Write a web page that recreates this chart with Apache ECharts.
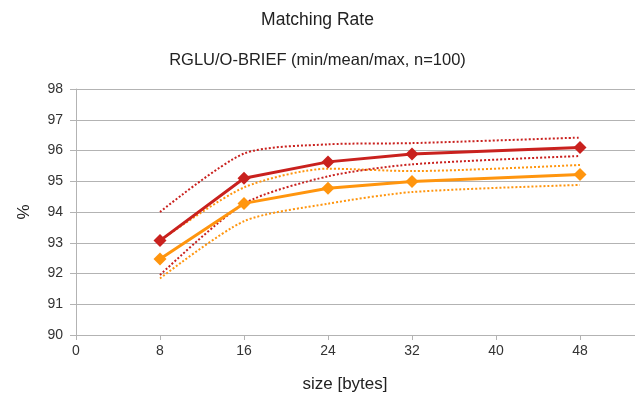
<!DOCTYPE html>
<html>
<head>
<meta charset="utf-8">
<script src="https://cdn.jsdelivr.net/npm/echarts@6/dist/echarts.min.js"></script>
<style>
html,body{margin:0;padding:0;background:#fff;overflow:hidden;}
#c{width:635px;height:398px;}
</style>
</head>
<body>
<div id="c"></div>
<script>
var sizes = [8, 16, 24, 32, 48];
var redMean = [93.07, 95.10, 95.63, 95.89, 96.10];
var redMax = [94.00, 95.90, 96.20, 96.24, 96.42];
var redMin = [91.95, 94.27, 95.16, 95.55, 95.82];
var orangeMean = [92.47, 94.28, 94.77, 94.99, 95.22];
var orangeMax = [93.07, 94.80, 95.41, 95.33, 95.53];
var orangeMin = [91.84, 93.70, 94.27, 94.65, 94.88];
var xTicks = [0, 8, 16, 24, 32, 40, 48, 56];
var yTicks = [90, 91, 92, 93, 94, 95, 96, 97, 98];

var RED = '#c9211e', ORANGE = '#ff950e';
function pairs(vals) { return sizes.map(function (s, i) { return [s, vals[i]]; }); }
function dotted(name, vals, color) {
  return { name: name, type: 'line', data: pairs(vals), showSymbol: false, smooth: 0.25,
    lineStyle: { color: color, width: 2, type: [2, 2] }, z: 2, animation: false };
}
function mean(name, vals, color) {
  return { name: name, type: 'line', data: pairs(vals), symbol: 'diamond', symbolSize: 13,
    itemStyle: { color: color }, lineStyle: { color: color, width: 3 }, z: 3, animation: false };
}
var font = 'Liberation Sans';
var chart = echarts.init(document.getElementById('c'));
chart.setOption({
  backgroundColor: '#fff',
  animation: false,
  title: [
    { text: 'Matching Rate', left: 'center', top: 6, textStyle: { fontFamily: font, fontSize: 17.5, fontWeight: 'normal', color: '#222' } },
    { text: 'RGLU/O-BRIEF (min/mean/max, n=100)', left: 'center', top: 47, textStyle: { fontFamily: font, fontSize: 16.5, fontWeight: 'normal', color: '#222' } }
  ],
  grid: { left: 76, width: 588, top: 89, bottom: 63, containLabel: false, outerBoundsMode: 'none' },
  xAxis: {
    type: 'value', min: xTicks[0], max: xTicks[xTicks.length - 1], interval: 8,
    name: 'size [bytes]', nameLocation: 'middle', nameGap: 41,
    nameTextStyle: { fontFamily: font, fontSize: 17, color: '#222', padding: [0, 50, 0, 0] },
    axisLine: { show: true, lineStyle: { color: '#b3b3b3' } },
    axisTick: { show: true, length: 5, lineStyle: { color: '#b3b3b3' } },
    axisLabel: { fontFamily: font, fontSize: 14, color: '#333', margin: 9 },
    splitLine: { show: false }
  },
  yAxis: {
    type: 'value', min: yTicks[0], max: yTicks[yTicks.length - 1], interval: 1,
    name: '%', nameLocation: 'middle', nameGap: 43, nameRotate: 90,
    nameTextStyle: { fontFamily: font, fontSize: 17, color: '#222' },
    axisLine: { show: true, lineStyle: { color: '#b3b3b3' } },
    axisTick: { show: true, length: 6, lineStyle: { color: '#b3b3b3' } },
    axisLabel: { fontFamily: font, fontSize: 14, color: '#333', margin: 13 },
    splitLine: { show: true, lineStyle: { color: '#b3b3b3', width: 1 } }
  },
  series: [
    dotted('orange max', orangeMax, ORANGE),
    dotted('orange min', orangeMin, ORANGE),
    dotted('red max', redMax, RED),
    dotted('red min', redMin, RED),
    mean('orange mean', orangeMean, ORANGE),
    mean('red mean', redMean, RED)
  ]
});
</script>
</body>
</html>
